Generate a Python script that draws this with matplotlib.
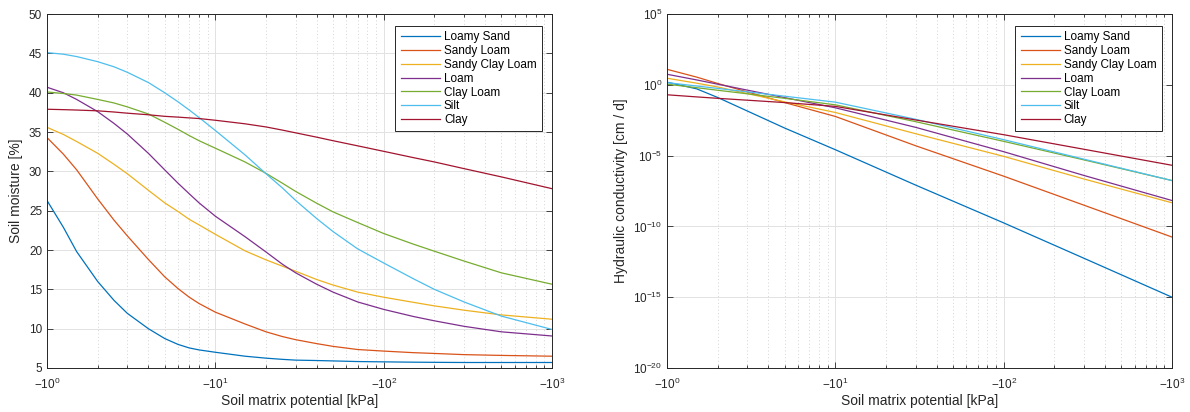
import numpy as np
import matplotlib
matplotlib.use("Agg")
import matplotlib.pyplot as plt
from matplotlib.ticker import FixedLocator, NullFormatter, LogLocator

plt.rcParams['font.family'] = ['Liberation Sans', 'DejaVu Sans']
plt.rcParams['mathtext.fontset'] = 'custom'
plt.rcParams['mathtext.rm'] = 'Liberation Sans'
plt.rcParams['mathtext.it'] = 'Liberation Sans'

# ---------------- data ----------------
soil_names = ["Loamy Sand", "Sandy Loam", "Sandy Clay Loam", "Loam", "Clay Loam", "Silt", "Clay"]
colors = ["#0072BD", "#D95319", "#EDB120", "#7E2F8E", "#77AC30", "#4DBEEE", "#A2142F"]

# soil moisture [%] vs matrix potential magnitude [kPa]
psi_m = [1, 1.25, 1.5, 2, 2.5, 3, 4, 5, 6, 7, 8, 10, 15, 20, 25, 30, 40, 50, 70,
         100, 150, 200, 300, 500, 1000]
moist_loamy_sand = [26.3, 22.9, 19.8, 16.0, 13.6, 11.95, 10.0, 8.75, 8.0, 7.55, 7.3, 7.0, 6.5,
                    6.25, 6.1, 6.0, 5.95, 5.9, 5.82, 5.78, 5.74, 5.72, 5.7, 5.7, 5.7]
moist_sandy_loam = [34.3, 32.2, 30.2, 26.5, 23.8, 21.8, 18.8, 16.6, 15.1, 14.0, 13.2, 12.1, 10.6,
                    9.6, 9.0, 8.6, 8.1, 7.75, 7.35, 7.15, 6.95, 6.85, 6.7, 6.6, 6.5]
moist_sandy_clay_loam = [35.6, 34.7, 33.8, 32.3, 30.9, 29.7, 27.6, 26.0, 24.9, 23.9, 23.2, 22.0, 19.9,
                         18.75, 17.95, 17.3, 16.25, 15.55, 14.65, 14.0, 13.35, 12.9, 12.35, 11.75, 11.2]
moist_loam = [40.7, 40.0, 39.15, 37.6, 36.1, 34.75, 32.3, 30.2, 28.5, 27.15, 26.0, 24.3, 21.7,
              19.75, 18.2, 17.1, 15.65, 14.65, 13.4, 12.45, 11.55, 11.0, 10.3, 9.6, 9.07]
moist_clay_loam = [40.1, 39.9, 39.7, 39.15, 38.7, 38.2, 37.3, 36.25, 35.35, 34.55, 33.9, 32.95, 31.2,
                   29.75, 28.5, 27.45, 25.95, 24.85, 23.5, 22.1, 20.75, 19.85, 18.6, 17.1, 15.65]
moist_silt = [45.1, 44.9, 44.6, 43.95, 43.3, 42.6, 41.3, 40.0, 38.85, 37.8, 36.85, 35.2, 32.1,
              29.7, 27.9, 26.3, 24.0, 22.35, 20.15, 18.35, 16.35, 15.0, 13.4, 11.6, 9.9]
moist_clay = [37.9, 37.85, 37.8, 37.7, 37.55, 37.4, 37.2, 37.0, 36.9, 36.8, 36.72, 36.5, 36.05,
              35.65, 35.25, 34.9, 34.35, 33.9, 33.25, 32.55, 31.75, 31.2, 30.35, 29.3, 27.8]

# hydraulic conductivity, log10 of K [cm/d], vs matrix potential magnitude [kPa]
psi_k = [1, 1.5, 2, 5, 10, 30, 100, 300, 1000]
logk_loamy_sand = [0.19, -0.28, -0.89, -3.05, -4.58, -7.08, -9.75, -12.25, -15.0]
logk_sandy_loam = [1.1, 0.55, 0.1, -1.25, -2.23, -4.3, -6.45, -8.5, -10.75]
logk_sandy_clay_loam = [0.47, 0.12, -0.15, -1.2, -1.95, -3.45, -5.05, -6.65, -8.33]
logk_loam = [0.75, 0.35, 0.05, -0.9, -1.62, -3.0, -4.72, -6.4, -8.17]
logk_clay_loam = [0.05, -0.2, -0.38, -0.95, -1.41, -2.6, -3.99, -5.3, -6.76]
logk_silt = [0.16, -0.08, -0.25, -0.8, -1.22, -2.43, -3.87, -5.25, -6.76]
logk_clay = [-0.7, -0.85, -0.95, -1.25, -1.52, -2.48, -3.52, -4.55, -5.68]

moist_all = [moist_loamy_sand, moist_sandy_loam, moist_sandy_clay_loam, moist_loam,
             moist_clay_loam, moist_silt, moist_clay]
logk_all = [logk_loamy_sand, logk_sandy_loam, logk_sandy_clay_loam, logk_loam,
            logk_clay_loam, logk_silt, logk_clay]

xtick_vals = [1, 10, 100, 1000]
xtick_labels = [r'$-10^{0}$', r'$-10^{1}$', r'$-10^{2}$', r'$-10^{3}$']

# ---------------- figure ----------------
fig = plt.figure(figsize=(11.9, 4.12), dpi=100)
ax1 = fig.add_axes([0.0395, 0.1068, 0.4244, 0.859])
ax2 = fig.add_axes([0.5605, 0.1068, 0.4244, 0.859])

edge = '#262626'
for ax in (ax1, ax2):
    ax.set_xscale('log')
    ax.set_xlim(1, 1000)
    ax.xaxis.set_major_locator(FixedLocator(xtick_vals))
    ax.set_xticklabels(xtick_labels)
    ax.xaxis.set_minor_locator(LogLocator(base=10, subs=np.arange(2, 10)))
    ax.xaxis.set_minor_formatter(NullFormatter())
    ax.tick_params(which='both', direction='in', top=True, right=True, colors=edge,
                   labelsize=8.5, width=0.6)
    ax.tick_params(which='major', length=4.5)
    ax.tick_params(which='minor', length=2.5)
    ax.tick_params(axis='x', pad=6)
    for s in ax.spines.values():
        s.set_color(edge)
        s.set_linewidth(0.7)
    ax.grid(True, which='major', color='#e2e2e2', linewidth=0.7)
    ax.grid(True, which='minor', axis='x', color='#d4d4d4', linestyle=(0, (1, 2.5)), linewidth=0.7)
    ax.set_axisbelow(True)
    ax.set_xlabel('Soil matrix potential [kPa]', fontsize=10, color=edge, labelpad=2)

for name, c, vals in zip(soil_names, colors, moist_all):
    ax1.plot(psi_m, vals, color=c, linewidth=0.9, label=name)
ax1.set_ylim(5, 50)
ax1.set_yticks(np.arange(5, 51, 5))
ax1.set_ylabel('Soil moisture [%]', fontsize=10, color=edge, labelpad=4)

for name, c, vals in zip(soil_names, colors, logk_all):
    ax2.plot(psi_k, 10.0 ** np.array(vals), color=c, linewidth=0.9, label=name)
ax2.set_yscale('log')
ax2.set_ylim(1e-20, 1e5)
ax2.yaxis.set_major_locator(FixedLocator([1e-20, 1e-15, 1e-10, 1e-5, 1e0, 1e5]))
ax2.set_yticklabels([r'$10^{-20}$', r'$10^{-15}$', r'$10^{-10}$', r'$10^{-5}$', r'$10^{0}$', r'$10^{5}$'])
ax2.yaxis.set_minor_locator(FixedLocator([]))
ax2.set_ylabel('Hydraulic conductivity [cm / d]', fontsize=10, color=edge, labelpad=4)

for ax in (ax1, ax2):
    leg = ax.legend(loc='upper right', bbox_to_anchor=(0.98, 0.966), fontsize=8.5,
                    frameon=True, fancybox=False, edgecolor=edge, framealpha=1,
                    handlelength=3.3, handletextpad=0.35, labelspacing=0.15,
                    borderpad=0.45, borderaxespad=0)
    leg.get_frame().set_linewidth(0.7)

fig.savefig('out.png', dpi=100)
